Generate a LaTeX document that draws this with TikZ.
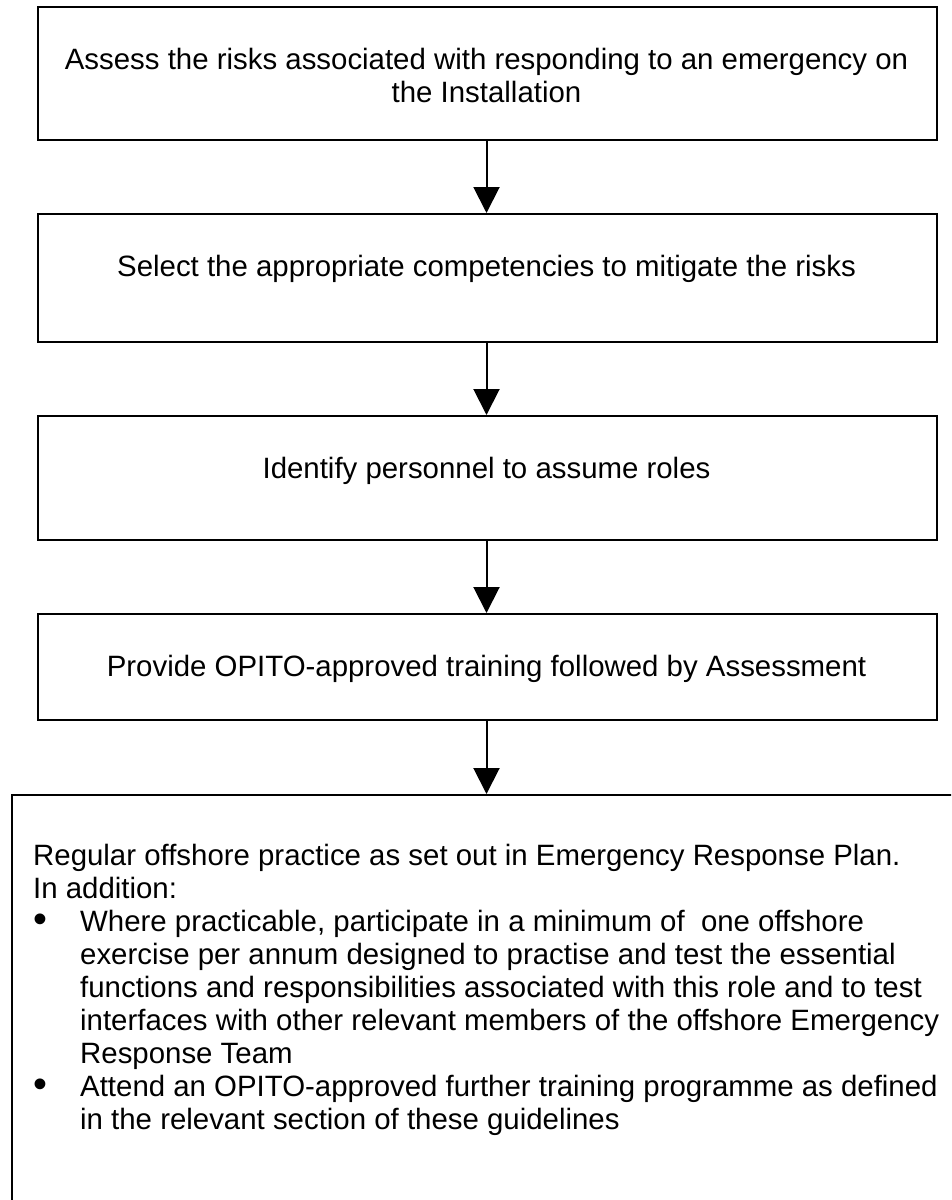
\documentclass[tikz,border=0pt]{standalone}
\usepackage{fontspec}
\setmainfont{Liberation Sans}
\usetikzlibrary{arrows.meta}
\newcommand\flowbullet[1]{\makebox[47pt][l]{\hspace{0.5pt}\raisebox{-1.5pt}{\scalebox{1.35}{•}}}#1}
\newcommand\flowindent[1]{\hspace*{47pt}#1}
\begin{document}
\begin{tikzpicture}[x=1pt,y=-1pt,
  stepbox/.style={draw=black, line width=2pt, inner sep=0pt, anchor=north west},
  boxtext/.style={anchor=base, inner sep=0pt, font=\fontsize{29.4}{33}\selectfont},
  flow/.style={line width=2pt, -{Triangle[width=26pt,length=26pt]}}]
\clip (0,0) rectangle (951,1200);
\fill[white] (0,0) rectangle (951,1200);

% process boxes
\node[stepbox, minimum width=899pt, minimum height=133pt] (b1) at (37,6) {};
\node[stepbox, minimum width=899pt, minimum height=128pt] (b2) at (37,213) {};
\node[stepbox, minimum width=899pt, minimum height=124pt] (b3) at (37,415) {};
\node[stepbox, minimum width=899pt, minimum height=106pt] (b4) at (37,613) {};
\node[stepbox, minimum width=960pt, minimum height=420pt] (b5) at (11,794) {};

% box texts
\node[boxtext] (t1) at (486.5,69) {\begin{tabular}[t]{@{}c@{}}Assess the risks associated with responding to an emergency on\\ the Installation\end{tabular}};
\node[boxtext] (t2) at (486.5,276) {Select the appropriate competencies to mitigate the risks};
\node[boxtext] (t3) at (486.5,478) {Identify personnel to assume roles};
\node[boxtext] (t4) at (486.5,676) {Provide OPITO-approved training followed by Assessment};
\node[anchor=base west, inner sep=0pt, font=\fontsize{29.4}{33}\selectfont] (t5) at (33,865)
  {\parbox[t]{915pt}{\raggedright
   Regular offshore practice as set out in Emergency Response Plan.\\
   In addition:\\
   \flowbullet{Where practicable, participate in a minimum of\ \ one offshore}\\
   \flowindent{exercise per annum designed to practise and test the essential}\\
   \flowindent{functions and responsibilities associated with this role and to test}\\
   \flowindent{interfaces with other relevant members of the offshore Emergency}\\
   \flowindent{Response Team}\\
   \flowbullet{Attend an OPITO-approved further training programme as defined}\\
   \flowindent{in the relevant section of these guidelines}}};

% connectors
\draw[flow] (b1.south -| t1) -- (b2.north -| t1);
\draw[flow] (b2.south -| t1) -- (b3.north -| t1);
\draw[flow] (b3.south -| t1) -- (b4.north -| t1);
\draw[flow] (b4.south -| t1) -- (b5.north -| t1);
\end{tikzpicture}
\end{document}
